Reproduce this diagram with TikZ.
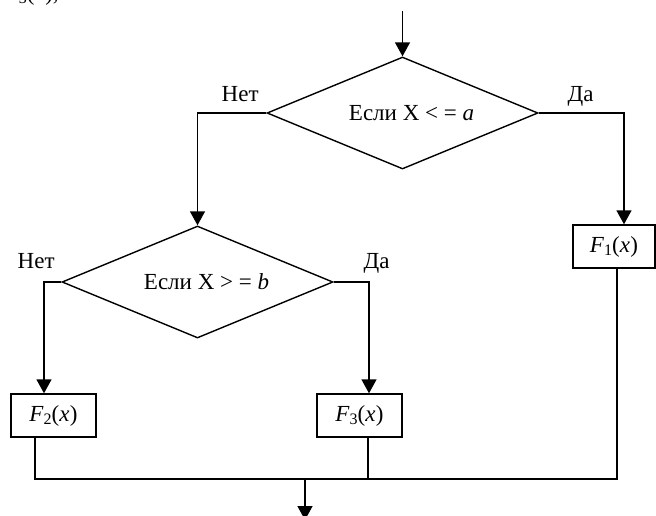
\documentclass[tikz,border=0pt]{standalone}
\usepackage{fontspec}
\setmainfont{Liberation Serif}
\usetikzlibrary{shapes.geometric,arrows.meta}
% subscript index set in the text face
\newcommand\idx[1]{\raisebox{-0.3ex}{\fontsize{16}{16}\selectfont #1}}
\newcommand\Fn[1]{\textit{F}\idx{#1}(\textit{x\kern0.5pt})}
\begin{document}
\begin{tikzpicture}[x=1pt,y=-1pt,
  font=\fontsize{23}{27}\selectfont,
  line width=1.4pt,
  every node/.style={line width=1.4pt},
  cond/.style={draw,diamond,inner sep=0pt,minimum width=271pt,minimum height=112pt},
  proc/.style={draw,rectangle,inner sep=0pt,minimum width=85pt,minimum height=43pt},
  lbl/.style={anchor=base west,inner sep=0pt},
  arr/.style={-{Triangle[length=14pt,width=15pt]}}]
\useasboundingbox (0,0) rectangle (656,515);

% tail of the preceding line of text
\node[lbl] (frag) at (4,0.5) {\Fn{3},};

% decision blocks
\node[cond] (d1) at (402.5,113) {};
\node (t1) at ([xshift=9pt]d1.center) {Если X < = \textit{a}};
\node[cond] (d2) at (197.5,282) {};
\node (t2) at ([xshift=9pt]d2.center) {Если X > = \textit{b}};

% branch labels
\node[lbl] (n1) at (221,101) {Нет};
\node[lbl] (y1) at (567,101) {Да};
\node[lbl] (n2) at (17,268) {Нет};
\node[lbl] (y2) at (363,268) {Да};

% processing blocks
\node[proc,minimum width=82pt] (f1) at (614,246.5) {\Fn{1}};
\node[proc] (f2) at (53.5,415.5) {\Fn{2}};
\node[proc] (f3) at (359.5,415.5) {\Fn{3}};

% entry, join and exit points
\coordinate (in) at (402.5,11);
\coordinate (jl) at (35,479);
\coordinate (jr) at (617,479);
\coordinate (out) at (305,520);

% flow lines
\draw[arr] (in) -- (d1.north);
\draw[arr] (d1.west) -| (d2.north);
\draw[arr] (d1.east) -| ([xshift=10pt]f1.north);
\draw[arr] (d2.west) -| ([xshift=-9.5pt]f2.north);
\draw[arr] (d2.east) -| ([xshift=9.5pt]f3.north);
\draw (f2.south -| jl) -- (jl) -- (jr) -- (f1.south -| jr);
\draw ([xshift=8.5pt]f3.south) -- ([xshift=8.5pt]f3.south |- jl);
\draw[arr] (jl -| out) -- (out);
\end{tikzpicture}
\end{document}
